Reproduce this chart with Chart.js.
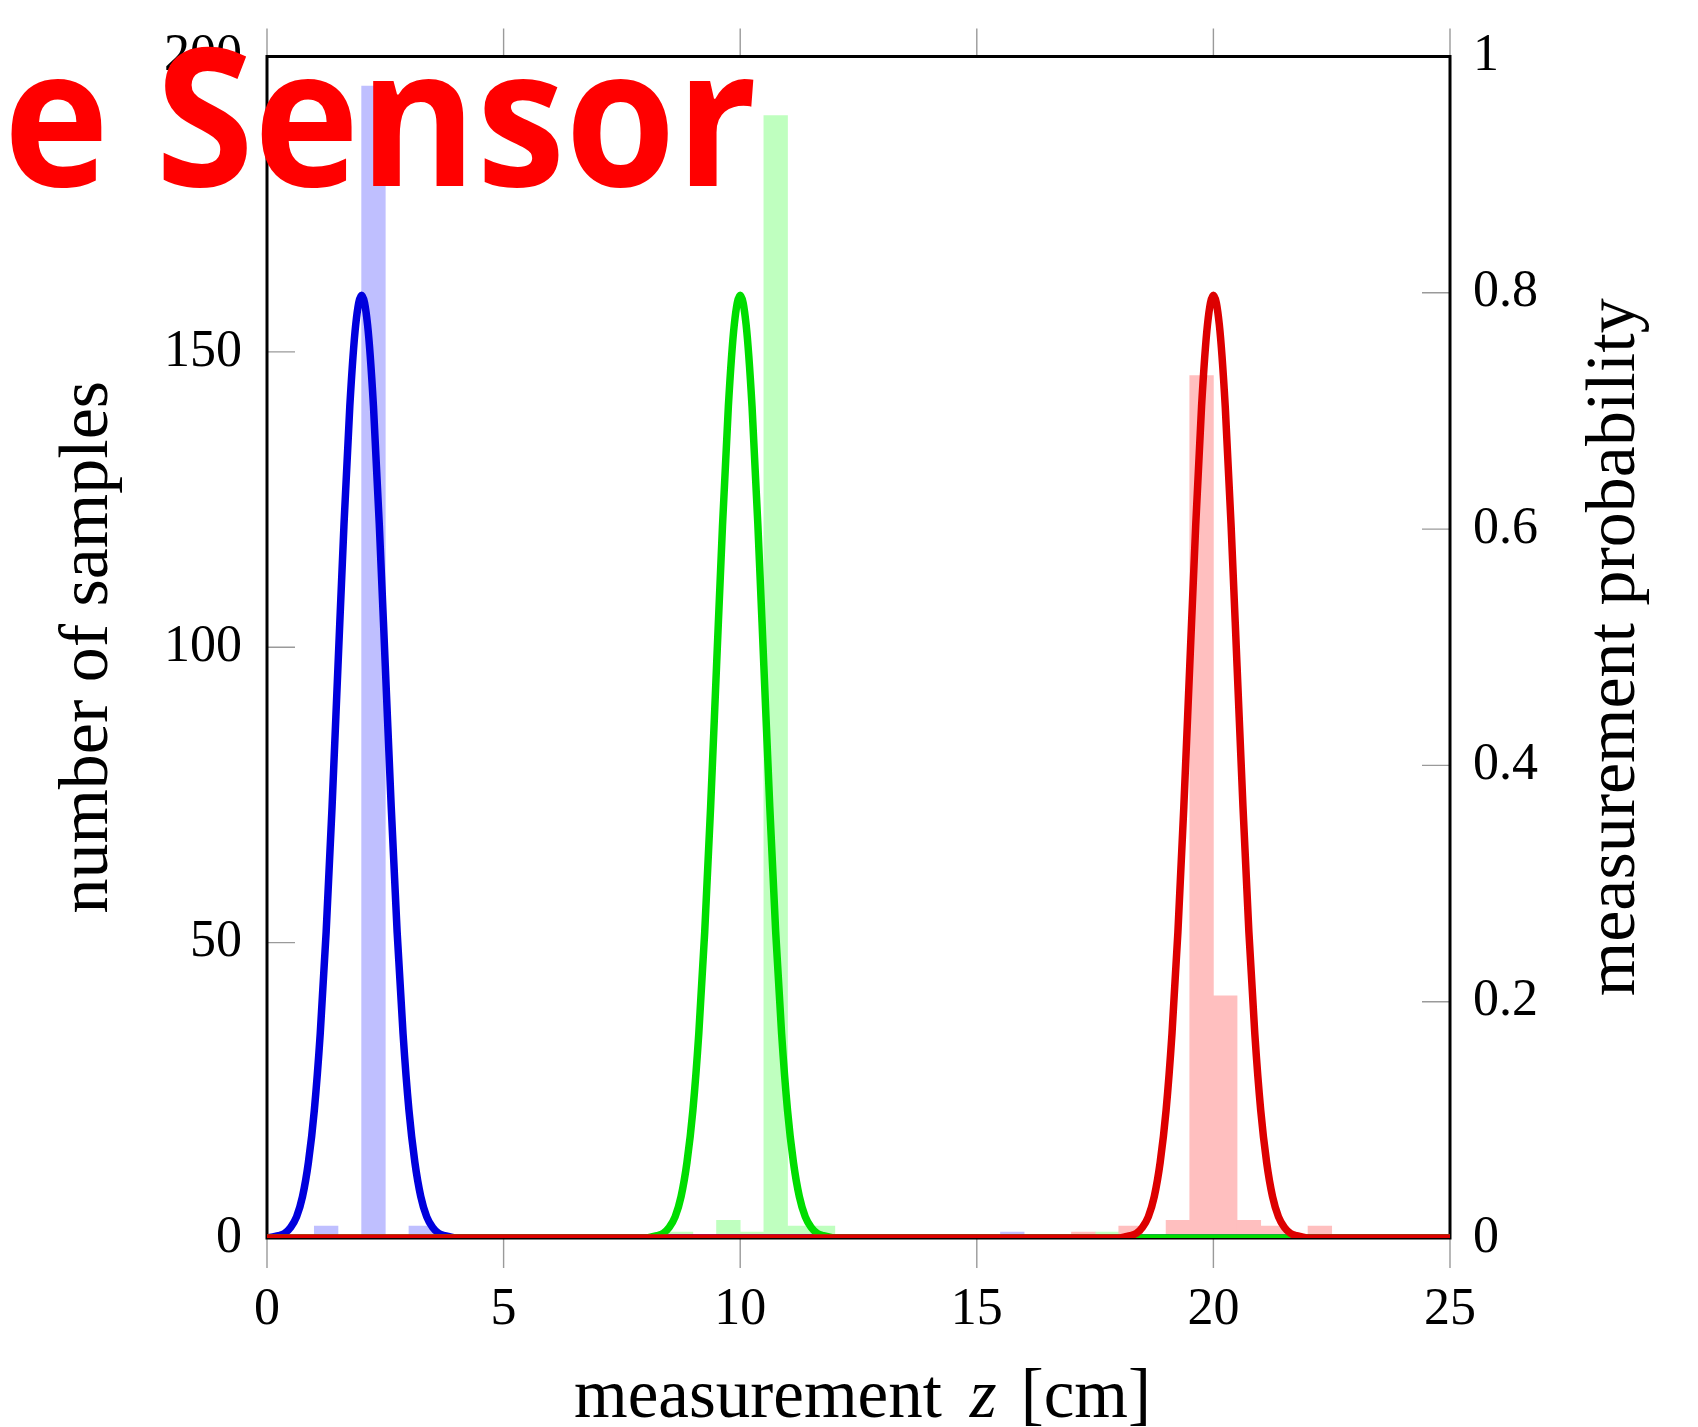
<!DOCTYPE html>
<html><head><meta charset="utf-8">
<script src="https://cdn.jsdelivr.net/npm/chart.js@4.4.0/dist/chart.umd.min.js"></script>
<style>html,body{margin:0;padding:0;background:#fff;}canvas{display:block}</style>
</head><body>
<canvas id="c" width="1698" height="1427"></canvas>
<script>
// ---- tick values / labels ----
const xTicks = [0, 5, 10, 15, 20, 25];
const xTickLabels = ['0', '5', '10', '15', '20', '25'];
const countTicks = [0, 50, 100, 150, 200];
const countTickLabels = ['0', '50', '100', '150', '200'];
const probTicks = [0, 0.2, 0.4, 0.6, 0.8, 1];
const probTickLabels = ['0', '0.2', '0.4', '0.6', '0.8', '1'];

// ---- histogram bins (centre of 0.5 cm bins) and sample counts ----
const blueBinCenters = [1.25, 2.25, 3.25, 15.75];
const blueBinCounts = [2, 195, 2, 1];
const greenBinCenters = [8.75, 9.75, 10.25, 10.75, 11.25, 11.75, 17.75];
const greenBinCounts = [1, 3, 1, 190, 2, 2, 1];
const redBinCenters = [17.25, 18.25, 19.25, 19.75, 20.25, 20.75, 21.25, 22.25];
const redBinCounts = [1, 2, 3, 146, 41, 3, 2, 2];

// ---- measurement probability curves ----
const blueCurveX = [0, 0.125, 0.25, 0.375, 0.5, 0.625, 0.75, 0.875, 1, 1.125, 1.25, 1.375, 1.5, 1.625, 1.75, 1.875, 2, 2.125, 2.25, 2.375, 2.5, 2.625, 2.75, 2.875, 3, 3.125, 3.25, 3.375, 3.5, 3.625, 3.75, 3.875, 4, 25];
const blueCurveY = [0.000, 0.001, 0.002, 0.004, 0.009, 0.018, 0.035, 0.064, 0.108, 0.173, 0.259, 0.365, 0.484, 0.602, 0.704, 0.773, 0.798, 0.773, 0.704, 0.602, 0.484, 0.365, 0.259, 0.173, 0.108, 0.064, 0.035, 0.018, 0.009, 0.004, 0.002, 0.001, 0.000, 0.000];
const greenCurveX = [0, 8, 8.125, 8.25, 8.375, 8.5, 8.625, 8.75, 8.875, 9, 9.125, 9.25, 9.375, 9.5, 9.625, 9.75, 9.875, 10, 10.125, 10.25, 10.375, 10.5, 10.625, 10.75, 10.875, 11, 11.125, 11.25, 11.375, 11.5, 11.625, 11.75, 11.875, 12, 25];
const greenCurveY = [0.000, 0.000, 0.001, 0.002, 0.004, 0.009, 0.018, 0.035, 0.064, 0.108, 0.173, 0.259, 0.365, 0.484, 0.602, 0.704, 0.773, 0.798, 0.773, 0.704, 0.602, 0.484, 0.365, 0.259, 0.173, 0.108, 0.064, 0.035, 0.018, 0.009, 0.004, 0.002, 0.001, 0.000, 0.000];
const redCurveX = [0, 18, 18.125, 18.25, 18.375, 18.5, 18.625, 18.75, 18.875, 19, 19.125, 19.25, 19.375, 19.5, 19.625, 19.75, 19.875, 20, 20.125, 20.25, 20.375, 20.5, 20.625, 20.75, 20.875, 21, 21.125, 21.25, 21.375, 21.5, 21.625, 21.75, 21.875, 22, 25];
const redCurveY = [0.000, 0.000, 0.001, 0.002, 0.004, 0.009, 0.018, 0.035, 0.064, 0.108, 0.173, 0.259, 0.365, 0.484, 0.602, 0.704, 0.773, 0.798, 0.773, 0.704, 0.602, 0.484, 0.365, 0.259, 0.173, 0.108, 0.064, 0.035, 0.018, 0.009, 0.004, 0.002, 0.001, 0.000, 0.000];

const xTitle = ['measurement', 'z', '[cm]'];
const yTitle = 'number of samples';
const y2Title = 'measurement probability';
const overlayText = 'e Sensor';

const zip = (xs, ys) => xs.map((x, i) => ({ x: x, y: ys[i] }));
const tickFont = { family: '"Liberation Serif", serif', size: 52 };

const framePlugin = {
  id: 'frame',
  beforeDatasetsDraw(chart) {
    const { ctx, chartArea: a, scales } = chart;
    ctx.save();
    ctx.strokeStyle = '#9a9a9a';
    ctx.lineWidth = 1.4;
    ctx.beginPath();
    xTicks.forEach(v => {
      const px = scales.x.getPixelForValue(v);
      ctx.moveTo(px, a.bottom); ctx.lineTo(px, a.bottom + 30);
      ctx.moveTo(px, a.top); ctx.lineTo(px, a.top - 28);
    });
    countTicks.forEach(v => {
      const py = scales.y.getPixelForValue(v);
      ctx.moveTo(a.left, py); ctx.lineTo(a.left + 28, py);
    });
    probTicks.forEach(v => {
      const py = scales.y2.getPixelForValue(v);
      ctx.moveTo(a.right, py); ctx.lineTo(a.right - 28, py);
    });
    ctx.stroke();
    ctx.strokeStyle = '#000';
    ctx.lineWidth = 3;
    ctx.strokeRect(a.left, a.top, a.right - a.left, a.bottom - a.top);
    ctx.restore();
  },
  afterDraw(chart) {
    const { ctx, chartArea: a } = chart;
    const cy = (a.top + a.bottom) / 2;
    const cx = (a.left + a.right) / 2;
    ctx.save();
    ctx.fillStyle = '#000';
    ctx.textBaseline = 'alphabetic';
    ctx.textAlign = 'center';
    ctx.font = '70px "Liberation Serif", serif';
    // left title
    ctx.save();
    ctx.translate(107, cy);
    ctx.rotate(-Math.PI / 2);
    ctx.fillText(yTitle, 0, 0);
    ctx.restore();
    // right title
    ctx.save();
    ctx.translate(1634, cy);
    ctx.rotate(-Math.PI / 2);
    ctx.fillText(y2Title, 0, 0);
    ctx.restore();
    // bottom title
    ctx.textAlign = 'left';
    const upright = '69px "Liberation Serif", serif';
    const ital = 'italic 69px "Liberation Serif", serif';
    ctx.font = upright; const w1 = ctx.measureText(xTitle[0]).width;
    ctx.font = ital; const w2 = ctx.measureText(xTitle[1]).width;
    ctx.font = upright; const w3 = ctx.measureText(xTitle[2]).width;
    const gapA = 28, gapB = 24;
    let x = cx - (w1 + w2 + w3 + gapA + gapB) / 2 + 4;
    const by = 1417;
    ctx.font = upright; ctx.fillText(xTitle[0], x, by); x += w1 + gapA;
    ctx.font = ital; ctx.fillText(xTitle[1], x, by); x += w2 + gapB;
    ctx.font = upright; ctx.fillText(xTitle[2], x, by);
    ctx.restore();

    // red overlay heading
    ctx.save();
    ctx.font = 'bold 192px "Open Sans", sans-serif';
    ctx.textAlign = 'left';
    ctx.textBaseline = 'alphabetic';
    const m = ctx.measureText(overlayText);
    const inkW = m.actualBoundingBoxLeft + m.actualBoundingBoxRight;
    const sx = (754 - 11) / inkW;
    ctx.translate(11, 186);
    ctx.scale(sx, 1);
    ctx.fillStyle = '#ff0000';
    ctx.fillText(overlayText, m.actualBoundingBoxLeft, 0);
    ctx.restore();
  }
};

function lineDs(xs, ys, color, order) {
  return { type: 'line', data: zip(xs, ys), yAxisID: 'y2', borderColor: color, backgroundColor: color,
    borderWidth: 7.5, pointRadius: 0, cubicInterpolationMode: 'monotone', fill: false, order: order,
    borderJoinStyle: 'round' };
}
function barDs(xs, ys, color, order) {
  return { type: 'bar', data: zip(xs, ys), yAxisID: 'y', backgroundColor: color, borderWidth: 0,
    grouped: false, barPercentage: 1, categoryPercentage: 1, order: order };
}

new Chart(document.getElementById('c'), {
  type: 'bar',
  data: {
    datasets: [
      lineDs(redCurveX, redCurveY, '#dd0000', 0),
      lineDs(greenCurveX, greenCurveY, '#00dd00', 1),
      lineDs(blueCurveX, blueCurveY, '#0000dd', 2),
      barDs(redBinCenters, redBinCounts, '#ffbfbf', 3),
      barDs(greenBinCenters, greenBinCounts, '#bfffbf', 4),
      barDs(blueBinCenters, blueBinCounts, '#bfbfff', 5)
    ]
  },
  options: {
    responsive: false,
    animation: false,
    devicePixelRatio: 1,
    layout: { padding: { top: 56.5, left: 0, right: 0, bottom: 0 } },
    plugins: { legend: { display: false }, tooltip: { enabled: false } },
    scales: {
      x: {
        type: 'linear', min: 0, max: 25, offset: false,
        grid: { display: false, drawTicks: false, offset: false },
        border: { display: false },
        ticks: { font: tickFont, color: '#000', padding: 41, maxRotation: 0, autoSkip: false,
          callback: (v, i) => xTickLabels[i] },
        afterBuildTicks: s => { s.ticks = xTicks.map(v => ({ value: v })); },
        afterFit: s => { s.height = 189; }
      },
      y: {
        type: 'linear', position: 'left', min: 0, max: 200,
        grid: { display: false, drawTicks: false },
        border: { display: false },
        ticks: { font: tickFont, color: '#000', padding: 25, callback: (v, i) => countTickLabels[i] },
        afterBuildTicks: s => { s.ticks = countTicks.map(v => ({ value: v })); },
        afterFit: s => { s.width = 267; }
      },
      y2: {
        type: 'linear', position: 'right', min: 0, max: 1,
        grid: { display: false, drawTicks: false },
        border: { display: false },
        ticks: { font: tickFont, color: '#000', padding: 23, callback: (v, i) => probTickLabels[i] },
        afterBuildTicks: s => { s.ticks = probTicks.map(v => ({ value: v })); },
        afterFit: s => { s.width = 248; }
      }
    }
  },
  plugins: [framePlugin]
});
</script>
</body></html>
